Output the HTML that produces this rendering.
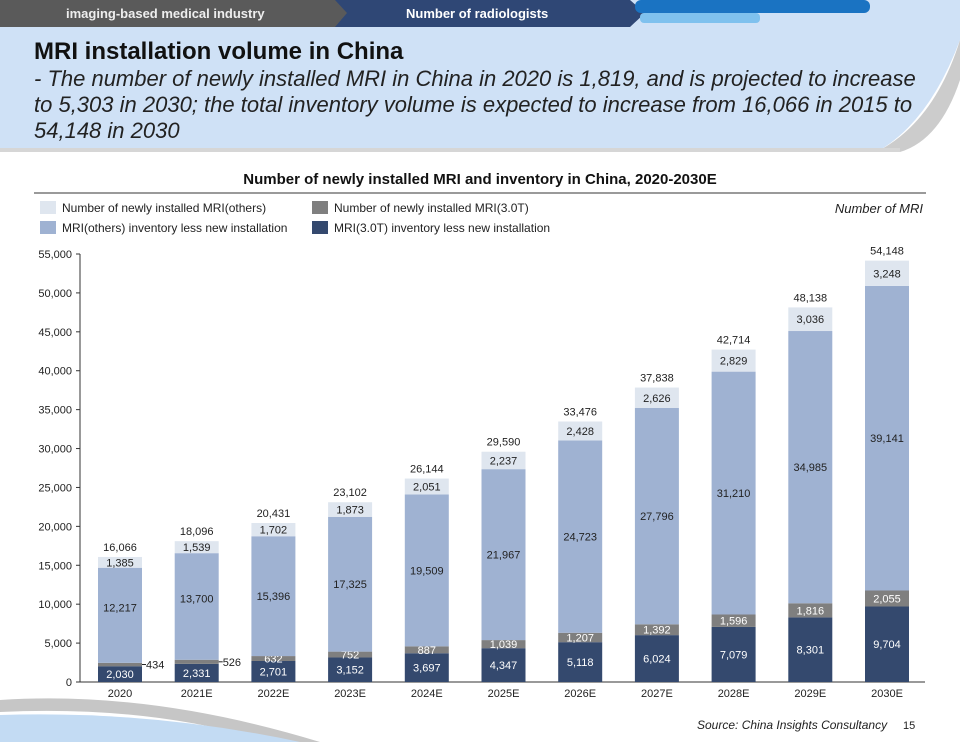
<!DOCTYPE html>
<html><head><meta charset="utf-8"><style>
body{margin:0;width:960px;height:742px;overflow:hidden;background:#fff;font-family:"Liberation Sans",sans-serif;position:relative}
.t{position:absolute;white-space:nowrap}
</style></head><body>
<svg width="960" height="742" style="position:absolute;left:0;top:0">
<path d="M0,0 H960 V40 Q930,120 880,150 L0,150 Z" fill="#cfe1f6"/>
<path d="M880,150 Q935,120 960,40 V80 Q940,140 900,152 Z" fill="#cccccc"/>
<rect x="0" y="148" width="900" height="4" fill="#d6d6d6"/>
<path d="M0,0 H340 L352,13 L340,27 H0 Z" fill="#5a5a5a"/>
<path d="M335,0 H630 L645,13 L630,27 H335 L347,13 Z" fill="#2f4775"/>
<rect x="635" y="0" width="235" height="13" rx="6" fill="#1a73c2"/>
<rect x="640" y="13" width="120" height="10" rx="4" fill="#7fc1ee"/>
<path d="M0,700 Q150,690 320,742 H270 Q150,705 0,712 Z" fill="#c6c6c6"/>
<path d="M0,715 Q150,710 300,742 H0 Z" fill="#c3dbf3"/>
</svg>
<div class="t" style="left:66px;top:6px;font-size:13px;font-weight:bold;color:#eee">imaging-based medical industry</div>
<div class="t" style="left:406px;top:6px;font-size:13px;font-weight:bold;color:#fff">Number of  radiologists</div>
<div class="t" style="left:34px;top:38px;font-size:24px;font-weight:bold;color:#111">MRI installation volume in China</div>
<div class="t" style="left:34px;top:66px;font-size:22px;font-style:italic;color:#222;line-height:26px">- The number of newly installed MRI in China in 2020 is 1,819, and is projected to increase<br>to 5,303 in 2030; the total inventory volume is expected to increase from 16,066 in 2015 to<br>54,148 in 2030</div>
<div class="t" style="left:0;width:960px;text-align:center;top:171px;font-size:15px;font-weight:bold;color:#111">Number of newly installed MRI and inventory in China, 2020-2030E</div>
<div style="position:absolute;left:34px;top:192px;width:892px;height:2px;background:#9a9a9a"></div>
<svg id="c" width="960" height="742" style="position:absolute;left:0;top:0" font-family="Liberation Sans, sans-serif"></svg>
<div class="t" style="left:697px;top:718px;font-size:12px;font-style:italic;color:#222">Source: China Insights Consultancy</div>
<div class="t" style="left:903px;top:720px;font-size:11px;color:#222">15</div>
<script>
const categories=["2020","2021E","2022E","2023E","2024E","2025E","2026E","2027E","2028E","2029E","2030E"];
const base30=[2030,2331,2701,3152,3697,4347,5118,6024,7079,8301,9704];
const new30=[434,526,632,752,887,1039,1207,1392,1596,1816,2055];
const baseOth=[12217,13700,15396,17325,19509,21967,24723,27796,31210,34985,39141];
const newOth=[1385,1539,1702,1873,2051,2237,2428,2626,2829,3036,3248];
const yTicks=[0,5000,10000,15000,20000,25000,30000,35000,40000,45000,50000,55000];
const NS="http://www.w3.org/2000/svg",svg=document.getElementById('c');
const y0=682,y1=254,ymax=55000,x0=120,dx=76.7,bw=44;
const Y=v=>y0-(v/ymax)*(y0-y1), X=i=>x0+i*dx;
const fmt=v=>v.toLocaleString('en-US');
function el(t,a,txt){const e=document.createElementNS(NS,t);for(const k in a)e.setAttribute(k,a[k]);if(txt!==undefined)e.textContent=txt;svg.appendChild(e);return e;}
const leg=[["Number of newly installed MRI(others)","#dfe6ef",40,201],["Number of newly installed MRI(3.0T)","#7f7f7f",312,201],["MRI(others) inventory less new installation","#9fb2d2",40,221],["MRI(3.0T) inventory less new installation","#34496e",312,221]];
leg.forEach(l=>{const r=el('rect',{x:l[2],y:l[3],width:16,height:13,fill:l[1]});
const t=el('text',{x:l[2]+22,y:l[3]+11,'font-size':12,fill:'#222'},l[0]);});
const u=el('text',{x:923,y:213,'font-size':13,'font-style':'italic','text-anchor':'end',fill:'#222'},'Number of MRI');
const ax=el('line',{x1:80,y1:y1,x2:80,y2:y0,stroke:'#333'});
const bx=el('line',{x1:80,y1:y0,x2:925,y2:y0,stroke:'#333'});
yTicks.forEach(v=>{const l=el('line',{x1:76,x2:80,y1:Y(v),y2:Y(v),stroke:'#333'});
const t=el('text',{x:72,y:Y(v)+4,'font-size':11,'text-anchor':'end',fill:'#222'},fmt(v));});
categories.forEach((c,i)=>{const x=X(i);
 const t=el('text',{x:x,y:697,'font-size':11,'text-anchor':'middle',fill:'#222'},c);
 const segs=[[base30[i],'#34496e','#fff','bar-3t-inventory'],[new30[i],'#7f7f7f','#fff','bar-3t-new'],[baseOth[i],'#9fb2d2','#222','bar-others-inventory'],[newOth[i],'#dfe6ef','#222','bar-others-new']];
 let acc=0;
 segs.forEach((s,k)=>{const yt=Y(acc+s[0]),yb=Y(acc);
  const r=el('rect',{x:x-bw/2,y:yt,width:bw,height:yb-yt,fill:s[1]});
  let lx=x,ly=(yt+yb)/2+4,anchor='middle',col=s[2];
  if(k==1&&i<2){lx=x+bw/2+4;anchor='start';col='#222';
   const ln=el('line',{x1:x+bw/2,x2:x+bw/2+4,y1:(yt+yb)/2,y2:(yt+yb)/2,stroke:'#222'});}
  if(k==2&&i<2)ly-=8;
  const tl=el('text',{x:lx,y:ly,'font-size':11,'text-anchor':anchor,fill:col},fmt(s[0]));
  acc+=s[0];});
 const tt=el('text',{x:x,y:Y(acc)-6,'font-size':11,'text-anchor':'middle',fill:'#222'},fmt(acc));
});
</script>
</body></html>
